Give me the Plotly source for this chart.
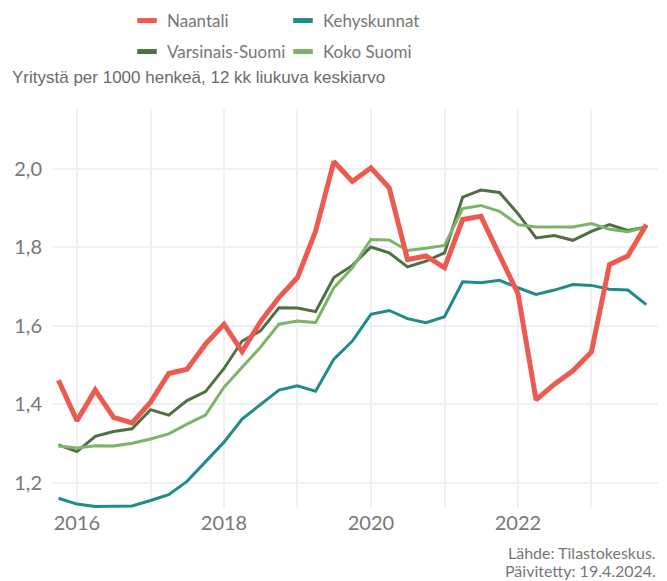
import plotly.graph_objects as go
import pandas as pd

# Quarterly points, Q4/2015 - Q4/2023
dates = pd.date_range('2015-10-01', periods=33, freq='QS')

naantali = [1.461, 1.358, 1.436, 1.366, 1.352, 1.405, 1.478, 1.489, 1.553, 1.604,
            1.534, 1.610, 1.672, 1.723, 1.841, 2.019, 1.968, 2.003, 1.952, 1.769,
            1.778, 1.748, 1.871, 1.879, 1.780, 1.682, 1.411, 1.451, 1.485, 1.533,
            1.756, 1.778, 1.858]
kehyskunnat = [1.160, 1.145, 1.139, 1.139, 1.140, 1.154, 1.169, 1.203, 1.252, 1.303,
               1.362, 1.400, 1.436, 1.447, 1.433, 1.515, 1.561, 1.629, 1.639, 1.618,
               1.608, 1.623, 1.712, 1.710, 1.716, 1.697, 1.680, 1.691, 1.705, 1.703,
               1.693, 1.691, 1.654]
varsinais_suomi = [1.296, 1.279, 1.318, 1.330, 1.337, 1.386, 1.372, 1.409, 1.432, 1.491,
                   1.561, 1.587, 1.646, 1.645, 1.636, 1.723, 1.754, 1.801, 1.786, 1.750,
                   1.765, 1.786, 1.928, 1.946, 1.940, 1.886, 1.824, 1.830, 1.818, 1.841,
                   1.858, 1.843, 1.852]
koko_suomi = [1.293, 1.288, 1.294, 1.293, 1.300, 1.311, 1.324, 1.349, 1.372, 1.443,
              1.494, 1.545, 1.604, 1.612, 1.608, 1.697, 1.748, 1.820, 1.819, 1.792,
              1.798, 1.805, 1.899, 1.907, 1.892, 1.858, 1.852, 1.852, 1.852, 1.861,
              1.846, 1.840, 1.852]

series = [
    ('Naantali', naantali, '#EC5A50', 5, 'legend'),
    ('Kehyskunnat', kehyskunnat, '#1F8C86', 3, 'legend'),
    ('Varsinais-Suomi', varsinais_suomi, '#4E7045', 3, 'legend2'),
    ('Koko Suomi', koko_suomi, '#7CB469', 3, 'legend2'),
]
draw_order = ['Kehyskunnat', 'Varsinais-Suomi', 'Koko Suomi', 'Naantali']

fig = go.Figure()
lookup = {s[0]: s for s in series}
for name in draw_order:
    _, vals, col, w, _ = lookup[name]
    fig.add_trace(go.Scatter(x=dates, y=vals, mode='lines', name=name,
                             line=dict(color=col, width=w), showlegend=False))

# legend entries (short thick bars)
for name, _, col, _, leg in series:
    fig.add_trace(go.Scatter(x=[None], y=[None], mode='markers', name=name,
                             legend=leg,
                             marker=dict(symbol='line-ew', size=14, color=col,
                                         line=dict(width=5, color=col))))

# page body adds an 8px offset, so the figure is 8px smaller than the window
W, H = 659, 573
grey = '#777777'
legend_common = dict(orientation='h', xanchor='left', yanchor='middle',
                     xref='container', yref='container',
                     entrywidth=111, entrywidthmode='pixels', itemwidth=30,
                     font=dict(family='Lato', size=17, color=grey),
                     bgcolor='rgba(0,0,0,0)')

fig.update_layout(
    width=W, height=H,
    margin=dict(l=45, r=9, t=101, b=73, autoexpand=False),
    plot_bgcolor='white', paper_bgcolor='white',
    separators=', ',
    title=dict(text='Yritystä per 1000 henkeä, 12 kk liukuva keskiarvo',
               x=4 / W, xanchor='left', y=1 - 69 / H, yanchor='middle',
               font=dict(family="'Liberation Sans', Arial, sans-serif", size=17,
                         color='#6b6b6b')),
    legend=dict(x=119 / W, y=1 - 13 / H, **legend_common),
    legend2=dict(x=119 / W, y=1 - 44 / H, **legend_common),
    xaxis=dict(range=['2015-09-04', '2023-11-28'], dtick='M24', tick0='2016-01-01',
               tickformat='%Y', showgrid=True, gridcolor='#F0F0F0', gridwidth=2,
               minor=dict(dtick='M12', tick0='2016-01-01', showgrid=True,
                          gridcolor='#F0F0F0', gridwidth=1.5),
               zeroline=False, showline=False, ticks='', ticklabelstandoff=1,
               automargin=False,
               tickfont=dict(family='Lato', size=20, color=grey)),
    yaxis=dict(range=[1.135, 2.153], dtick=0.2, tick0=1.2, tickformat='.1f',
               showgrid=True, gridcolor='#F0F0F0', gridwidth=2,
               zeroline=False, showline=False, ticks='', ticklabelstandoff=10,
               automargin=False,
               tickfont=dict(family='Lato', size=20, color=grey)),
)

# source footer, two right-aligned lines
for txt, yy in [('Lähde: Tilastokeskus.', -0.1103), ('Päivitetty: 19.4.2024.', -0.1554)]:
    fig.add_annotation(text=txt, xref='paper', yref='paper', x=1.0, y=yy,
                       xanchor='right', yanchor='middle', showarrow=False,
                       font=dict(family='Lato', size=16, color=grey))

fig.write_html("out.html")
